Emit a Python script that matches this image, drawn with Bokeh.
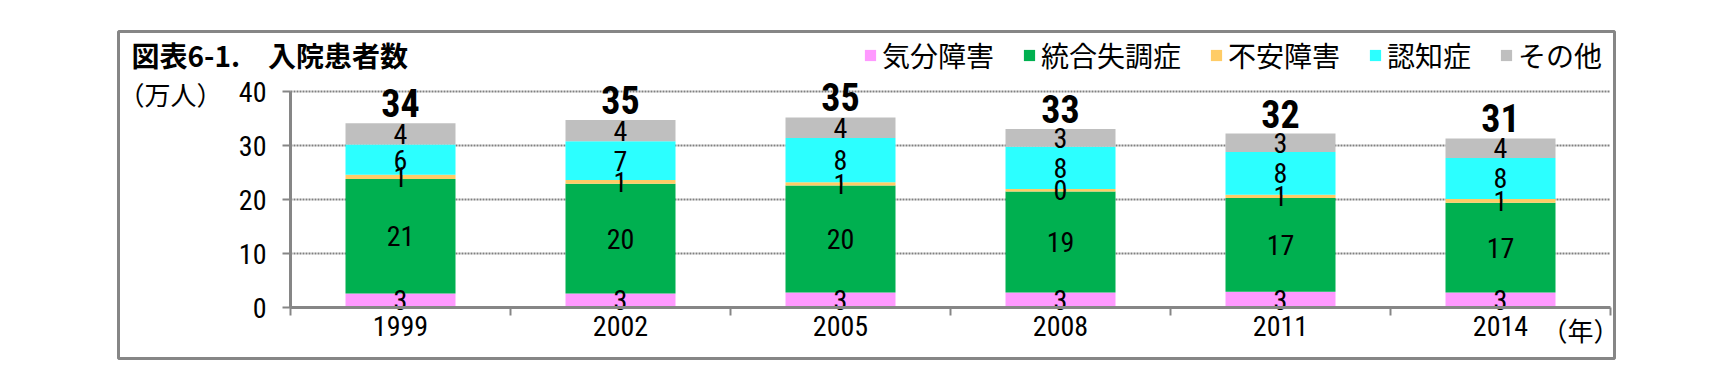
from bokeh.plotting import figure
from bokeh.models import (ColumnDataSource, FixedTicker, Legend, LegendItem, Label,
                          LabelSet, Range1d)
from bokeh.core.properties import value
from bokeh.embed import file_html
from bokeh.resources import INLINE

# ---- data (万人) ----
years = ["1999", "2002", "2005", "2008", "2011", "2014"]
mood = [2.6, 2.6, 2.8, 2.8, 2.9, 2.8]          # 気分障害
schizo = [21.2, 20.3, 19.8, 18.7, 17.4, 16.6]  # 統合失調症
anxiety = [0.8, 0.7, 0.6, 0.45, 0.6, 0.7]      # 不安障害
dementia = [5.6, 7.2, 8.2, 7.8, 7.9, 7.6]      # 認知症
other = [3.9, 3.9, 3.8, 3.3, 3.4, 3.6]         # その他
series_names = ["気分障害", "統合失調症", "不安障害", "認知症", "その他"]
y_ticks = [0, 10, 20, 30, 40]

title_text = "図表6-1.　入院患者数"
y_unit = "（万人）"
x_unit = "（年）"

colors = ["#FF99FF", "#00B050", "#FFCC66", "#2CFFFF", "#BFBFBF"]
NUM_FONT = "Roboto Condensed, DejaVu Sans Condensed, Liberation Sans, sans-serif"
JP_FONT = "Noto Sans CJK JP"
GRAY = "#868686"

series = [mood, schizo, anxiety, dementia, other]
n = len(years)
xs = [i + 0.5 for i in range(n)]
y_max = y_ticks[-1]

data = {"x": xs}
keys = ["s0", "s1", "s2", "s3", "s4"]
for k, s in zip(keys, series):
    data[k] = s
src = ColumnDataSource(data)

# frame = outer box (screen 118..1614 x 31..358); axes fixed inside it
# plot area: x 0..n -> screen 290..1610, y 0..40 -> screen 307..91
px_x = 220.0
px_y = 5.4
x_range = Range1d(-(290 - 118) / px_x, n + (1614 - 1610) / px_x)
y_range = Range1d(-(358 - 307) / px_y, y_max + (91 - 31) / px_y)

p = figure(width=1712, height=364, x_range=x_range, y_range=y_range,
           output_backend="svg", toolbar_location=None,
           min_border_left=118, min_border_right=98, min_border_top=31, min_border_bottom=6)
p.outline_line_color = GRAY
p.outline_line_width = 3
p.background_fill_color = "white"
p.border_fill_color = "white"
p.xgrid.visible = False
p.ygrid.visible = False

# dotted gridlines across the plot area
p.segment(x0=[0] * len(y_ticks), x1=[n] * len(y_ticks), y0=y_ticks, y1=y_ticks,
          line_color="#808080", line_width=2, line_dash="2 1")

renderers = p.vbar_stack(keys, x="x", width=0.5, color=colors, line_color=None, source=src)

# segment labels
lx, ly, lt = [], [], []
for i, x in enumerate(xs):
    bottom = 0.0
    for s in series:
        v = s[i]
        lx.append(x)
        ly.append(bottom + v / 2)
        lt.append(str(round(v)))
        bottom += v
p.text(x=lx, y=ly, text=lt, text_align="center", text_baseline="middle",
       text_font=value(NUM_FONT), text_font_size="28px", text_color="black")

# totals
totals = [sum(s[i] for s in series) for i in range(n)]
tsrc = ColumnDataSource({"x": xs, "y": totals, "t": [str(round(t)) for t in totals]})
p.add_layout(LabelSet(x="x", y="y", text="t", source=tsrc, text_align="center",
                      text_baseline="alphabetic", y_offset=6,
                      text_font=value(NUM_FONT), text_font_size="38px",
                      text_font_style="bold", text_color="black"))

# axes (fixed at the data origin)
p.yaxis.fixed_location = 0
p.yaxis.bounds = (0, y_max)
p.yaxis.ticker = FixedTicker(ticks=y_ticks)
p.yaxis.axis_line_color = GRAY
p.yaxis.axis_line_width = 3
p.yaxis.major_tick_line_color = GRAY
p.yaxis.major_tick_line_width = 2
p.yaxis.major_tick_out = 8
p.yaxis.major_tick_in = 0
p.yaxis.minor_tick_line_color = None
p.yaxis.major_label_text_font = NUM_FONT
p.yaxis.major_label_text_font_size = "28px"
p.yaxis.major_label_text_color = "black"
p.yaxis.major_label_standoff = 16

p.xaxis.fixed_location = 0
p.xaxis.bounds = (0, n)
p.xaxis.ticker = FixedTicker(ticks=xs, minor_ticks=list(range(n + 1)))
p.xaxis.major_label_overrides = {x: y for x, y in zip(xs, years)}
p.xaxis.axis_line_color = GRAY
p.xaxis.axis_line_width = 3
p.xaxis.major_tick_line_color = None
p.xaxis.major_tick_out = 8
p.xaxis.major_tick_in = 0
p.xaxis.minor_tick_line_color = GRAY
p.xaxis.minor_tick_line_width = 2
p.xaxis.minor_tick_out = 8
p.xaxis.minor_tick_in = 0
p.xaxis.major_label_text_font = NUM_FONT
p.xaxis.major_label_text_font_size = "28px"
p.xaxis.major_label_text_color = "black"
p.xaxis.major_label_standoff = 0

# legend
items = [LegendItem(label=nm, renderers=[r]) for nm, r in zip(series_names, renderers)]
legend = Legend(items=items, orientation="horizontal", location=(745, 283),
                glyph_width=14, glyph_height=14, label_standoff=5, spacing=28,
                padding=0, margin=0, border_line_color=None, background_fill_alpha=0,
                label_text_font=JP_FONT, label_text_font_size="28px",
                label_text_color="black")
p.add_layout(legend, "center")

# texts (screen units, relative to the frame's bottom-left)
p.add_layout(Label(x=13, y=304, x_units="screen", y_units="screen", text=title_text,
                   text_font=JP_FONT, text_font_size="28px", text_font_style="bold",
                   text_baseline="middle", text_color="black"))
p.add_layout(Label(x=0, y=265, x_units="screen", y_units="screen", text=y_unit,
                   text_font=JP_FONT, text_font_size="26px",
                   text_baseline="middle", text_color="black"))
p.add_layout(Label(x=1423, y=29.5, x_units="screen", y_units="screen", text=x_unit,
                   text_font=JP_FONT, text_font_size="26px",
                   text_baseline="middle", text_color="black"))

open("out.html", "w").write(file_html(p, INLINE))
